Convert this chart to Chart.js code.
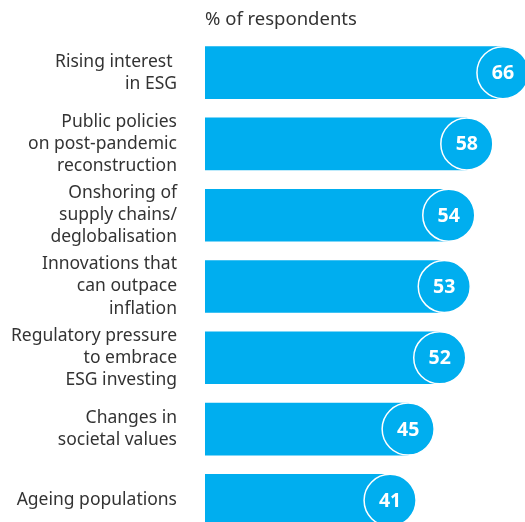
<!DOCTYPE html>
<html>
<head>
<meta charset="utf-8">
<script src="https://cdn.jsdelivr.net/npm/chart.js@4"></script>
<style>
  html, body { margin:0; padding:0; background:#fff; overflow:hidden; }
  #wrap { width:525px; height:522px; overflow:hidden; position:relative; }
  #wrap canvas { display:block; }
</style>
</head>
<body>
<div id="wrap"><canvas id="drivers" width="525" height="536"></canvas></div>
<script>
  const categories = [
    ['Rising interest ', 'in ESG'],
    ['Public policies', 'on post-pandemic', 'reconstruction'],
    ['Onshoring of', 'supply chains/', 'deglobalisation'],
    ['Innovations that', 'can outpace', 'inflation'],
    ['Regulatory pressure', 'to embrace', 'ESG investing'],
    ['Changes in', 'societal values'],
    ['Ageing populations']
  ];
  const shares = [66, 58, 54, 53, 52, 45, 41];
  const axisTitle = '% of respondents';

  const BLUE = '#00aeef';
  const FONT = '"Noto Sans", "Open Sans", sans-serif';

  // circle badge with the value at the end of each bar, plus the axis caption
  const badges = {
    id: 'badges',
    afterDatasetsDraw(chart){
      const ctx = chart.ctx;
      const meta = chart.getDatasetMeta(0);
      ctx.save();
      meta.data.forEach((bar, i) => {
        ctx.beginPath();
        ctx.arc(bar.x, bar.y, 26, 0, Math.PI * 2);
        ctx.fillStyle = BLUE;
        ctx.fill();
        ctx.lineWidth = 1.5;
        ctx.strokeStyle = '#fff';
        ctx.stroke();
        ctx.fillStyle = '#fff';
        ctx.font = 'bold 19.5px ' + FONT;
        ctx.textAlign = 'center';
        ctx.textBaseline = 'middle';
        ctx.fillText(String(shares[i]), bar.x, bar.y + 1);
      });
      ctx.fillStyle = '#333';
      ctx.font = '18.5px ' + FONT;
      ctx.textAlign = 'left';
      ctx.textBaseline = 'alphabetic';
      ctx.fillText(axisTitle, chart.chartArea.left, 25);
      ctx.restore();
    }
  };

  new Chart(document.getElementById('drivers'), {
    type: 'bar',
    data: {
      labels: categories,
      datasets: [{
        data: shares,
        backgroundColor: BLUE,
        borderWidth: 0,
        barThickness: 52
      }]
    },
    options: {
      indexAxis: 'y',
      responsive: false,
      animation: false,
      layout: { padding: { top: 37, right: 4, bottom: 0, left: 0 } },
      plugins: { legend: { display: false }, tooltip: { enabled: false } },
      scales: {
        x: { display: false, min: 0, max: 70 },
        y: {
          border: { display: false },
          grid: { display: false, drawTicks: false },
          afterFit(scale){
            scale.width = 205;
            // labels may overhang the band; keep the plot edge fixed
            scale.paddingTop = 0;
            scale.paddingBottom = 0;
          },
          ticks: {
            padding: 28,
            color: '#333',
            font: { family: FONT, size: 17.5, lineHeight: 1.26 }
          }
        }
      }
    },
    plugins: [badges]
  });
</script>
</body>
</html>
